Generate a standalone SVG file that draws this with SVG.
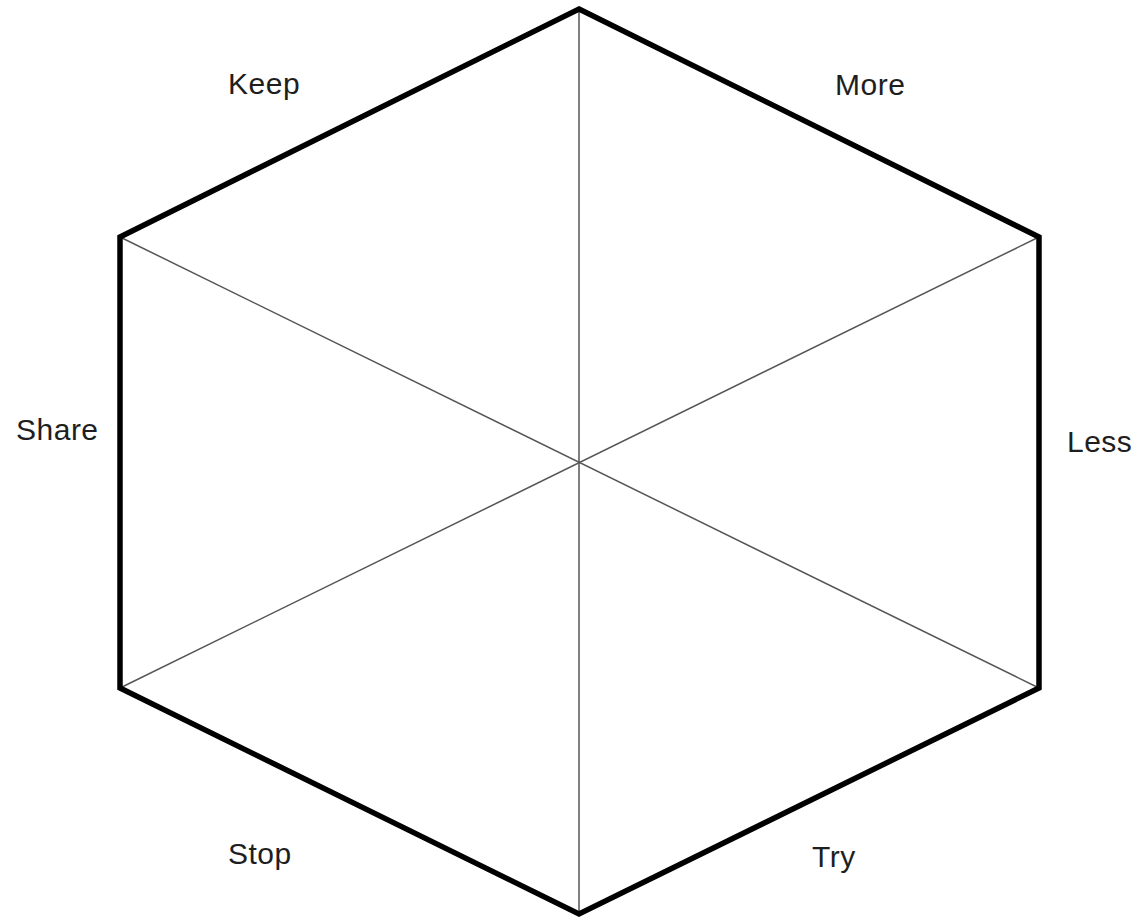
<svg xmlns="http://www.w3.org/2000/svg" width="1143" height="920" viewBox="0 0 1143 920">
<style>
.lbl{font-family:"Liberation Sans",Arial,sans-serif;font-size:30px;letter-spacing:0.5px;fill:#1e1e1e}
.spoke{stroke:#555;stroke-width:1.5;fill:none}
.edge{stroke:#000;stroke-width:5.5;fill:none;stroke-linejoin:miter}
</style>
<rect width="1143" height="920" fill="#fff"/>
<g id="connectors">
<line class="spoke" x1="579" y1="9" x2="579" y2="914"/>
<line class="spoke" x1="120" y1="237" x2="1039" y2="688"/>
<line class="spoke" x1="1039" y1="237" x2="120" y2="688"/>
</g>
<g id="hexagon">
<polygon class="edge" points="579,9 1039,237 1039,688 579,914 120,688 120,237"/>
</g>
<g id="label-keep"><text class="lbl" x="228" y="94">Keep</text></g>
<g id="label-more"><text class="lbl" x="835" y="95">More</text></g>
<g id="label-share"><text class="lbl" x="16" y="440">Share</text></g>
<g id="label-less"><text class="lbl" x="1067" y="452">Less</text></g>
<g id="label-stop"><text class="lbl" x="228" y="864">Stop</text></g>
<g id="label-try"><text class="lbl" x="812" y="867">Try</text></g>
</svg>
